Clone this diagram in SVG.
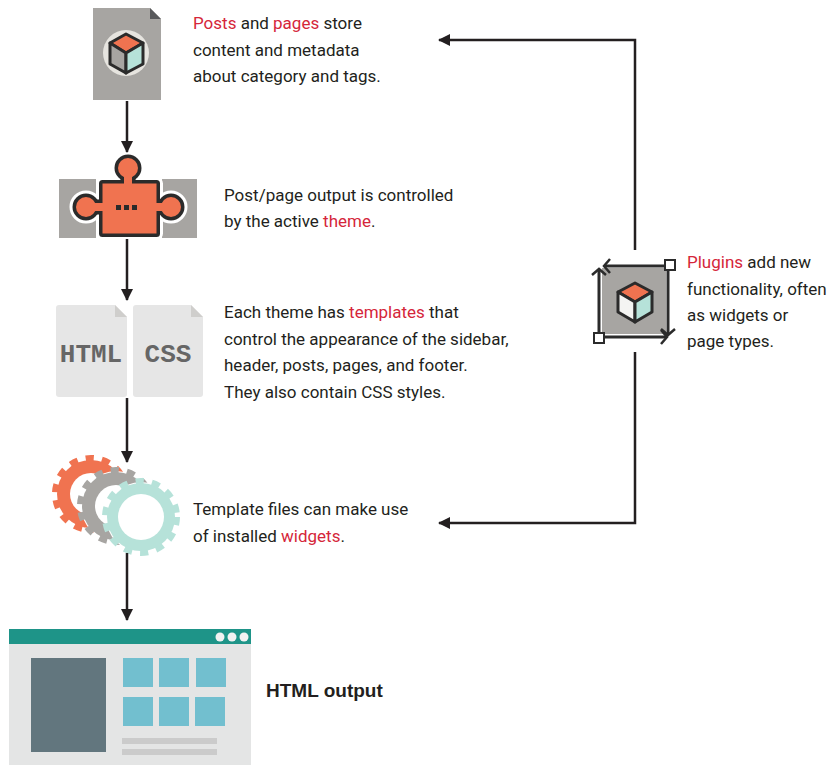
<svg xmlns="http://www.w3.org/2000/svg" width="829" height="765" viewBox="0 0 829 765">
  <defs>
    <style>
      .txt { font-family: Roboto, "Liberation Sans", sans-serif; font-size: 17px; fill: #231f20; }
      .red { fill: #d5263a; }
      .title { font-family: "Liberation Sans", Arial, sans-serif; font-size: 19px; font-weight: bold; fill: #231f20; }
      .conn { stroke: #231f20; stroke-width: 2.5; fill: none; }
      .edge { stroke: #2b2b2b; stroke-width: 3; stroke-linejoin: round; }
      .code { font-family: "Liberation Mono", "DejaVu Sans Mono", monospace; font-weight: bold; font-size: 26px; fill: #666666; text-anchor: middle; }
      .tooth { fill: none; stroke-width: 6; stroke-dasharray: 8.2 8.2; }
    </style>
    <marker id="arrow" viewBox="0 0 12 12" refX="11" refY="6" markerWidth="12" markerHeight="12" markerUnits="userSpaceOnUse" orient="auto">
      <path d="M0,0 L12,6 L0,12 Z" fill="#231f20"/>
    </marker>
    <path id="chev" d="M-6,-7 L0,0 L-6,7" fill="none" stroke="#2b2b2b" stroke-width="2.5"/>
  </defs>

  <!-- content node: page document with cube -->
  <g id="content">
    <path d="M93,8 H150 L161,19 V100 H93 Z" fill="#a7a5a2"/>
    <path d="M150,8 L161,19 H150 Z" fill="#58595b"/>
    <circle cx="126" cy="53" r="23" fill="#e6e4df"/>
    <path d="M126,34 L143,43 L126,53 L110,43 Z" fill="#f07350" class="edge"/>
    <path d="M110,43 L126,53 L126,73 L110,64 Z" fill="#a7a5a2" class="edge"/>
    <path d="M143,43 L126,53 L126,73 L143,64 Z" fill="#b6e2d9" class="edge"/>
    <text class="txt" x="193" y="29"><tspan class="red">Posts</tspan> and <tspan class="red">pages</tspan> store</text>
    <text class="txt" x="193" y="56">content and metadata</text>
    <text class="txt" x="193" y="82">about category and tags.</text>
  </g>

  <!-- theme node: puzzle piece -->
  <g id="theme">
    <rect x="59" y="179" width="37" height="59" fill="#a7a5a2"/>
    <rect x="162" y="179" width="35" height="59" fill="#a7a5a2"/>
    <g stroke="#ffffff" stroke-width="13" fill="#ffffff" stroke-linejoin="round">
      <rect x="102.5" y="183.5" width="54" height="50"/>
      <circle cx="128" cy="168" r="10"/>
      <circle cx="86" cy="207" r="10"/>
      <circle cx="171" cy="207" r="10"/>
      <rect x="124" y="170" width="8" height="16"/>
      <rect x="88" y="203" width="16" height="8"/>
      <rect x="154" y="203" width="16" height="8"/>
    </g>
    <g stroke="#2b2b2b" stroke-width="7" fill="#2b2b2b" stroke-linejoin="round">
      <rect x="102.5" y="183.5" width="54" height="50"/>
      <circle cx="128" cy="168" r="10"/>
      <circle cx="86" cy="207" r="10"/>
      <circle cx="171" cy="207" r="10"/>
      <rect x="124" y="170" width="8" height="16"/>
      <rect x="88" y="203" width="16" height="8"/>
      <rect x="154" y="203" width="16" height="8"/>
    </g>
    <g fill="#f07350">
      <rect x="102.5" y="183.5" width="54" height="50"/>
      <circle cx="128" cy="168" r="10"/>
      <circle cx="86" cy="207" r="10"/>
      <circle cx="171" cy="207" r="10"/>
      <rect x="124" y="170" width="8" height="16"/>
      <rect x="88" y="203" width="16" height="8"/>
      <rect x="154" y="203" width="16" height="8"/>
    </g>
    <g fill="#2b2b2b">
      <rect x="116" y="205" width="5" height="5"/>
      <rect x="124" y="205" width="5" height="5"/>
      <rect x="132" y="205" width="5" height="5"/>
    </g>
    <text class="txt" x="224" y="201">Post/page output is controlled</text>
    <text class="txt" x="224" y="227">by the active <tspan class="red">theme</tspan>.</text>
  </g>

  <!-- templates node: HTML and CSS files -->
  <g id="templates">
    <path d="M59,305 H115 L127,317 V394 Q127,397 124,397 H59 Q56,397 56,394 V308 Q56,305 59,305 Z" fill="#e6e6e6"/>
    <path d="M115,305 L127,317 H115 Z" fill="#cfcecc"/>
    <path d="M136,305 H191 L203,317 V394 Q203,397 200,397 H136 Q133,397 133,394 V308 Q133,305 136,305 Z" fill="#e6e6e6"/>
    <path d="M191,305 L203,317 H191 Z" fill="#cfcecc"/>
    <text class="code" x="91" y="362">HTML</text>
    <text class="code" x="168" y="362">CSS</text>
    <text class="txt" x="224" y="318">Each theme has <tspan class="red">templates</tspan> that</text>
    <text class="txt" x="224" y="344.5">control the appearance of the sidebar,</text>
    <text class="txt" x="224" y="371">header, posts, pages, and footer.</text>
    <text class="txt" x="224" y="397.5">They also contain CSS styles.</text>
  </g>

  <!-- widgets node: gears -->
  <g id="widgets">
    <circle cx="91" cy="494" r="34" fill="#f07350"/>
    <circle cx="91" cy="494" r="36" class="tooth" stroke="#f07350"/>
    <circle cx="91" cy="494" r="21" fill="#ffffff"/>
    <circle cx="116" cy="506" r="35" fill="#ffffff"/>
    <circle cx="116" cy="506" r="34" fill="#a7a5a2"/>
    <circle cx="116" cy="506" r="36" class="tooth" stroke="#a7a5a2"/>
    <circle cx="116" cy="506" r="21" fill="#ffffff"/>
    <circle cx="141" cy="517" r="35" fill="#ffffff"/>
    <circle cx="141" cy="517" r="34" fill="#b6e2d9"/>
    <circle cx="141" cy="517" r="36" class="tooth" stroke="#b6e2d9"/>
    <circle cx="141" cy="517" r="23" fill="#ffffff"/>
    <text class="txt" x="193" y="515">Template files can make use</text>
    <text class="txt" x="193" y="542">of installed <tspan class="red">widgets</tspan>.</text>
  </g>

  <!-- output node: browser window -->
  <g id="output">
    <rect x="9" y="629" width="242" height="136" fill="#e4e5e5"/>
    <rect x="9" y="629" width="242" height="15" fill="#1e9488"/>
    <g fill="#f2f2f2">
      <circle cx="220" cy="637" r="4.5"/>
      <circle cx="232" cy="637" r="4.5"/>
      <circle cx="244" cy="637" r="4.5"/>
    </g>
    <rect x="31" y="658" width="75" height="94" fill="#62767e"/>
    <g fill="#72bfcf">
      <rect x="123" y="658" width="30" height="29"/>
      <rect x="159" y="658" width="30" height="29"/>
      <rect x="196" y="658" width="30" height="29"/>
      <rect x="123" y="697" width="30" height="29"/>
      <rect x="159" y="697" width="30" height="29"/>
      <rect x="195" y="697" width="30" height="29"/>
    </g>
    <rect x="122" y="738" width="95" height="6" fill="#cbcbcb"/>
    <rect x="122" y="749" width="95" height="6" fill="#cbcbcb"/>
    <text class="title" x="266" y="697">HTML output</text>
  </g>

  <!-- plugins node: cube in a resize frame -->
  <g id="plugins">
    <rect x="602" y="268" width="64" height="66" fill="#a7a5a2"/>
    <g stroke="#2b2b2b" stroke-width="3" fill="none">
      <line x1="604" y1="266" x2="668" y2="266"/>
      <line x1="668" y1="266" x2="668" y2="334"/>
      <line x1="599" y1="337" x2="666" y2="337"/>
      <line x1="599" y1="337" x2="599" y2="270"/>
    </g>
    <use href="#chev" transform="translate(604,266) rotate(180)"/>
    <use href="#chev" transform="translate(599,269) rotate(-90)"/>
    <use href="#chev" transform="translate(667,337)"/>
    <use href="#chev" transform="translate(668,335) rotate(90)"/>
    <rect x="665" y="260" width="10" height="10" fill="#ffffff" stroke="#2b2b2b" stroke-width="2"/>
    <rect x="594" y="333" width="10" height="10" fill="#ffffff" stroke="#2b2b2b" stroke-width="2"/>
    <path d="M635,283 L652,292 L635,302 L618,292 Z" fill="#f07350" class="edge"/>
    <path d="M618,292 L635,302 L635,322 L618,312 Z" fill="#f4f4f2" class="edge"/>
    <path d="M652,292 L635,302 L635,322 L652,312 Z" fill="#b6e2d9" class="edge"/>
    <text class="txt" x="687" y="268"><tspan class="red">Plugins</tspan> add new</text>
    <text class="txt" x="687" y="295">functionality, often</text>
    <text class="txt" x="687" y="321">as widgets or</text>
    <text class="txt" x="687" y="347">page types.</text>
  </g>

  <!-- connectors -->
  <g id="connectors">
    <line class="conn" x1="127" y1="101" x2="127" y2="152" marker-end="url(#arrow)"/>
    <line class="conn" x1="127" y1="239" x2="127" y2="300" marker-end="url(#arrow)"/>
    <line class="conn" x1="127" y1="398" x2="127" y2="462" marker-end="url(#arrow)"/>
    <line class="conn" x1="127" y1="553" x2="127" y2="620" marker-end="url(#arrow)"/>
    <polyline class="conn" points="635,250 635,40 439,40" marker-end="url(#arrow)"/>
    <polyline class="conn" points="635,352 635,523 439,523" marker-end="url(#arrow)"/>
  </g>
</svg>
